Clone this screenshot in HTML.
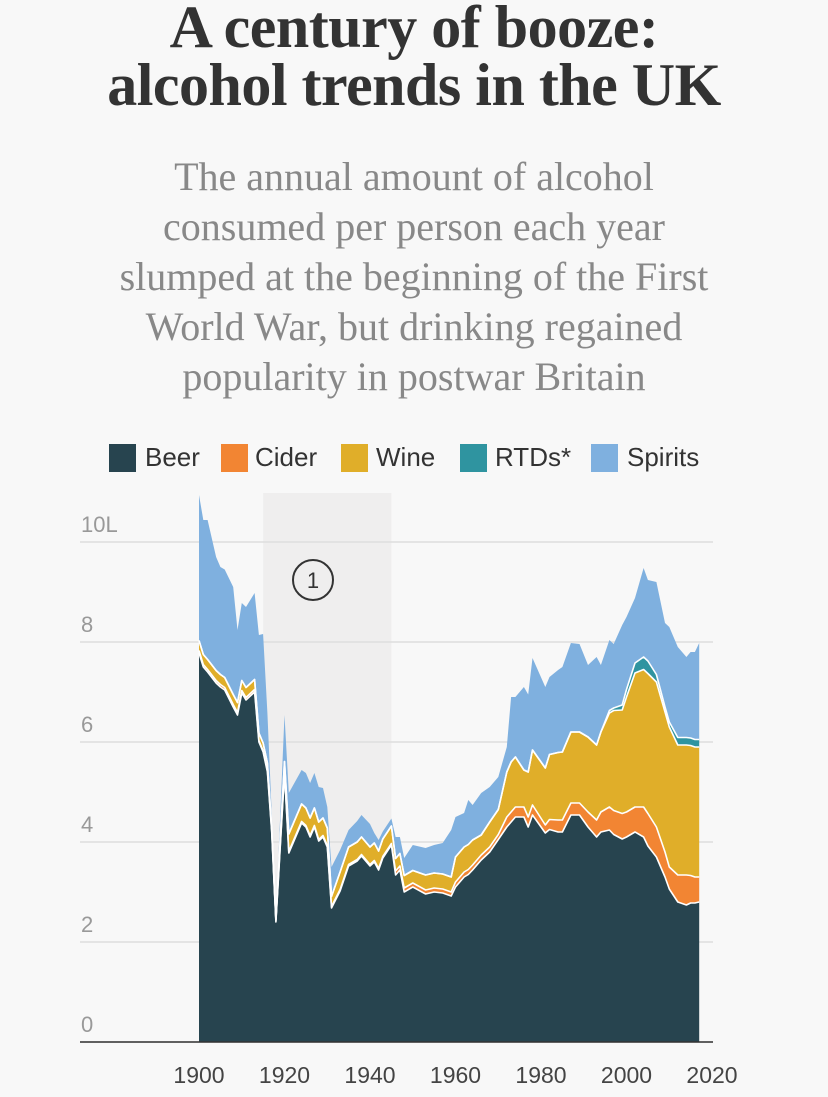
<!DOCTYPE html>
<html><head><meta charset="utf-8"><style>
html,body{margin:0;padding:0;background:#f8f8f8;}
body{width:828px;height:1097px;position:relative;overflow:hidden;font-family:"Liberation Sans",sans-serif;}
.t{position:absolute;left:0;width:828px;text-align:center;}
#title{top:-2px;font-family:"Liberation Serif",serif;font-weight:bold;font-size:60px;line-height:58px;color:#333;letter-spacing:-0.5px;}
#sub{top:152px;font-family:"Liberation Serif",serif;font-size:40px;line-height:50px;color:#888;}
.sw{position:absolute;top:444px;width:27px;height:28px;}
.lt{position:absolute;top:442px;font-size:26px;color:#333;line-height:30px;}
</style></head><body>
<div class="t" id="title">A century of booze:<br>alcohol trends in the UK</div>
<div class="t" id="sub">The annual amount of alcohol<br>consumed per person each year<br>slumped at the beginning of the First<br>World War, but drinking regained<br>popularity in postwar Britain</div>
<div>
<div class="sw" style="left:109px;background:#27444f"></div><div class="lt" style="left:145px">Beer</div>
<div class="sw" style="left:221px;background:#f28533"></div><div class="lt" style="left:255px">Cider</div>
<div class="sw" style="left:341px;background:#e0ae29"></div><div class="lt" style="left:376px">Wine</div>
<div class="sw" style="left:460px;background:#2f94a0"></div><div class="lt" style="left:495px">RTDs*</div>
<div class="sw" style="left:591px;background:#7fb0df"></div><div class="lt" style="left:627px">Spirits</div>
</div>
<svg id="chart" width="828" height="1097" style="position:absolute;left:0;top:0"></svg>
<script>
const years=[1900,1901,1902,1904,1905,1906,1908,1909,1910,1911,1913,1914,1915,1916,1917,1918,1920,1921,1924,1925,1926,1927,1928,1929,1930,1931,1933,1935,1937,1938,1940,1941,1942,1943,1945,1946,1947,1948,1950,1953,1955,1957,1959,1960,1962,1963,1964,1966,1968,1970,1972,1973,1974,1976,1977,1978,1981,1982,1984,1985,1987,1989,1991,1993,1994,1996,1997,1999,2000,2002,2004,2005,2007,2009,2010,2012,2014,2015,2016,2017];
const beer=[7.78,7.5,7.4,7.18,7.1,7.04,6.7,6.54,6.98,6.84,7.0,6.0,5.8,5.4,4.2,2.4,5.38,3.78,4.38,4.3,4.1,4.3,4.02,4.1,3.9,2.68,3.02,3.52,3.62,3.72,3.52,3.6,3.44,3.68,3.94,3.34,3.44,3.0,3.1,2.96,3.0,2.98,2.92,3.1,3.3,3.35,3.44,3.64,3.8,4.05,4.3,4.4,4.5,4.5,4.3,4.54,4.18,4.25,4.2,4.2,4.54,4.54,4.3,4.1,4.2,4.24,4.15,4.06,4.1,4.2,4.1,3.92,3.7,3.3,3.06,2.8,2.74,2.78,2.78,2.8];
const cider=[0.05,0.05,0.05,0.05,0.05,0.05,0.05,0.05,0.05,0.05,0.05,0.03,0.03,0.03,0.03,0.02,0.03,0.03,0.03,0.03,0.03,0.03,0.03,0.03,0.03,0.03,0.03,0.03,0.03,0.03,0.03,0.03,0.03,0.03,0.03,0.08,0.08,0.08,0.08,0.08,0.08,0.08,0.08,0.1,0.1,0.1,0.1,0.1,0.1,0.1,0.2,0.2,0.2,0.2,0.2,0.2,0.16,0.2,0.24,0.24,0.24,0.24,0.3,0.34,0.4,0.46,0.48,0.51,0.5,0.5,0.6,0.65,0.6,0.5,0.44,0.54,0.6,0.55,0.52,0.5];
const wine=[0.2,0.2,0.2,0.2,0.2,0.2,0.2,0.2,0.2,0.2,0.2,0.15,0.15,0.15,0.05,0.03,0.2,0.35,0.35,0.35,0.35,0.35,0.35,0.35,0.35,0.2,0.35,0.35,0.35,0.35,0.35,0.35,0.35,0.35,0.35,0.25,0.25,0.25,0.25,0.3,0.3,0.3,0.3,0.5,0.5,0.5,0.5,0.4,0.5,0.5,0.9,1.0,1.0,0.74,0.9,1.1,1.14,1.3,1.35,1.36,1.42,1.42,1.5,1.5,1.6,1.88,2.0,2.07,2.3,2.68,2.75,2.8,2.9,2.8,2.8,2.6,2.6,2.6,2.6,2.6];
const rtds=[0,0,0,0,0,0,0,0,0,0,0,0,0,0,0,0,0,0,0,0,0,0,0,0,0,0,0,0,0,0,0,0,0,0,0,0,0,0,0,0,0,0,0,0,0,0,0,0,0,0,0,0,0,0,0,0,0,0,0,0,0,0,0,0,0,0.05,0.05,0.1,0.15,0.2,0.25,0.25,0.15,0.1,0.1,0.15,0.15,0.15,0.15,0.15];
const spirits=[2.91,2.69,2.79,2.27,2.15,2.16,2.15,1.45,1.55,1.61,1.73,1.96,2.18,1.0,0.3,0.05,0.93,0.82,0.68,0.7,0.7,0.7,0.7,0.6,0.42,0.59,0.44,0.34,0.42,0.44,0.46,0.2,0.22,0.15,0.15,0.43,0.33,0.35,0.51,0.54,0.56,0.62,0.94,0.8,0.68,0.89,0.7,0.84,0.7,0.65,0.5,1.3,1.2,1.66,1.55,1.84,1.62,1.55,1.65,1.7,1.78,1.76,1.44,1.76,1.34,1.41,1.28,1.6,1.45,1.3,1.78,1.62,1.85,1.68,1.9,1.81,1.61,1.72,1.75,1.93];
const yTicks=[0,2,4,6,8,10];
const yTickLabels=["0","2","4","6","8","10L"];
const xTicks=[1900,1920,1940,1960,1980,2000,2020];

const NS="http://www.w3.org/2000/svg";
const svg=document.getElementById('chart');
const X=yr=>199+(yr-1900)*4.275;
const Y=v=>1042-v*50;
function mk(tag,attrs,parent){const e=document.createElementNS(NS,tag);for(const k in attrs)e.setAttribute(k,attrs[k]);(parent||svg).appendChild(e);return e;}

const band=mk('rect',{x:X(1915),y:493,width:X(1945)-X(1915),height:549,fill:'#efeeee'});



yTicks.forEach((v,i)=>{
  const g=mk('line',{x1:80,x2:713,y1:Y(v),y2:Y(v),stroke:'#dddddd','stroke-width':1.5});
  
  
  const t=mk('text',{x:81,y:Y(v)-10,'font-size':22,fill:'#999','font-family':'Liberation Sans, sans-serif'});
  t.textContent=yTickLabels[i];
  
  
});

const series=[["beer",beer,"#27444f"],["cider",cider,"#f28533"],["wine",wine,"#e0ae29"],["rtds",rtds,"#2f94a0"],["spirits",spirits,"#7fb0df"]];
const base=years.map(()=>0);
const tops=[];
series.forEach(([name,vals,col])=>{
  const lo=base.slice();
  const hi=base.map((b,i)=>b+vals[i]);
  let d='M'+years.map((yr,i)=>X(yr).toFixed(1)+','+Y(hi[i]).toFixed(1)).join('L');
  for(let i=years.length-1;i>=0;i--)d+='L'+X(years[i]).toFixed(1)+','+Y(lo[i]).toFixed(1);
  d+='Z';
  const p=mk('path',{d:d,fill:col});
  
  
  tops.push([name,hi]);
  hi.forEach((v,i)=>base[i]=v);
});
tops.slice(0,4).forEach(([name,hi])=>{
  const d='M'+years.map((yr,i)=>X(yr).toFixed(1)+','+Y(hi[i]).toFixed(1)).join('L');
  const l=mk('path',{d:d,fill:'none',stroke:'#fff','stroke-width':1.6,'stroke-linejoin':'round'});
  
  
});

const ax=mk('line',{x1:80,x2:713,y1:1042,y2:1042,stroke:'#333','stroke-width':1.5});


xTicks.forEach(yr=>{
  const t=mk('text',{x:X(yr),y:1083,'font-size':23,fill:'#444','text-anchor':'middle','font-family':'Liberation Sans, sans-serif'});
  t.textContent=yr;
  
  
});

const c=mk('circle',{cx:313,cy:580,r:20,fill:'none',stroke:'#333','stroke-width':2});


const ct=mk('text',{x:313,y:588,'font-size':22,fill:'#333','text-anchor':'middle','font-family':'Liberation Sans, sans-serif'});
ct.textContent='1';


</script>
</body></html>
